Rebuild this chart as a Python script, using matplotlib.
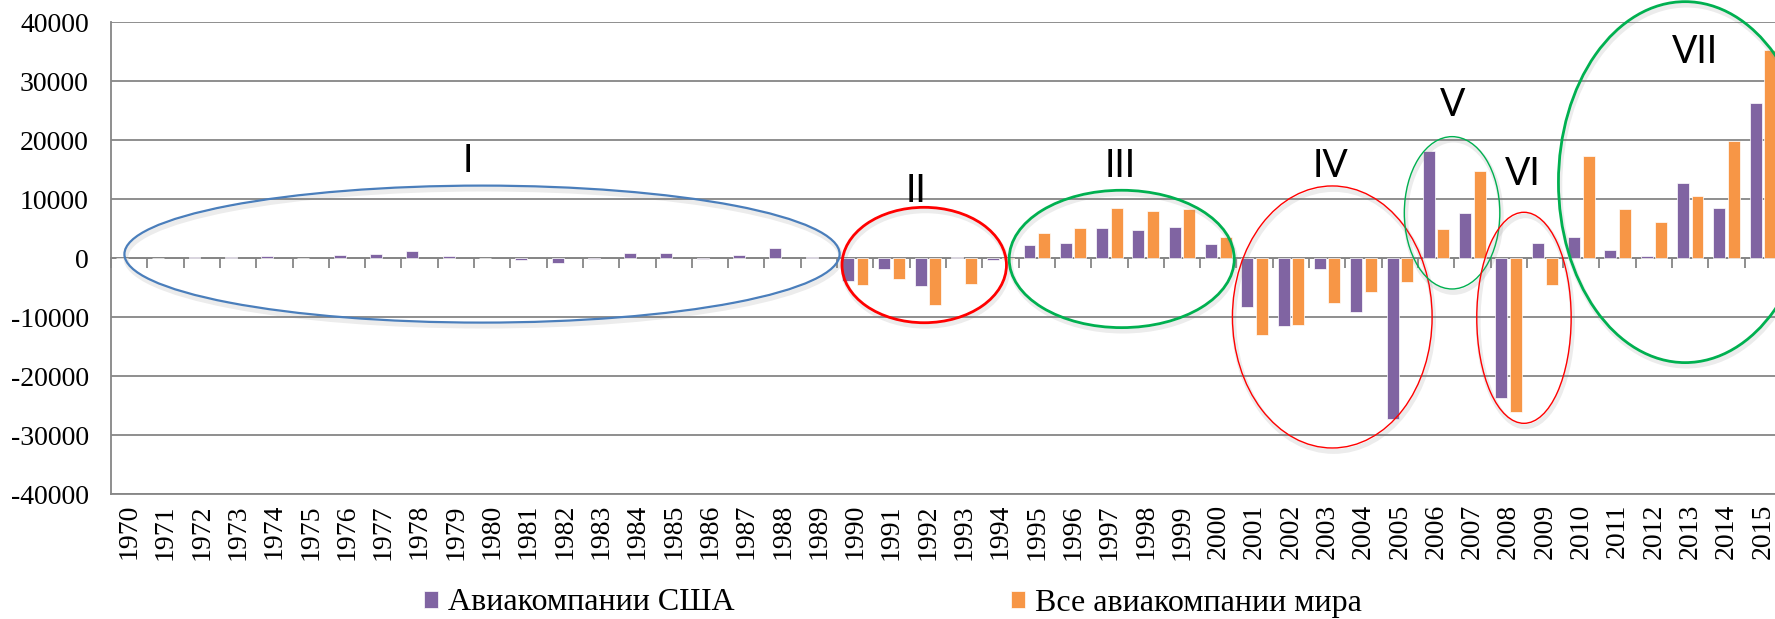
import numpy as np
import matplotlib
matplotlib.use('Agg')
from matplotlib import pyplot as plt
from matplotlib.patches import Ellipse
import matplotlib.patheffects as pe

plt.rcParams['axes.unicode_minus'] = False

# %% data
years = list(range(1970, 2016))
usa = [0, 0, 230, 230, 340, 0, 560, 730, 1190, 400,
       0, -230, -850, -150, 900, 900, -150, 560, 1750, 200,
       -3840, -1860, -4750, 230, -340, 2260, 2660, 5080, 4800, 5250,
       2430, -8300, -11400, -1810, -9150, -27200, 18190, 7680, -23730, 2600,
       3670, 1410, 400, 12770, 8530, 26380]
world = [np.nan]*20 + [
       -4460, -3450, -7850, -4350, -150, 4350, 5200, 8530, 8080, 8420,
       3670, -13050, -11360, -7630, -5650, -4070, 5030, 14750, -25990, -4520,
       17340, 8360, 6160, 10620, 19890, 35310]
label_usa = 'Авиакомпании США'
label_world = 'Все авиакомпании мира'

# periods: label, label x, label y, ellipse center, width, height, colour, line width
periods = [
    ('I',   9.33, 16470, (9.72, 710),     19.7, 23220, '#4a7ebb', 1.6),
    ('II',  21.67, 11380, (21.9, -1140),  4.53, 19560, '#ff0000', 2.0),
    ('III', 27.31, 15700, (27.34, -110),  6.2, 23280, '#00b050', 2.0),
    ('IV',  33.1, 15700, (33.14, -9945),  5.5, 44410, '#ff0000', 1.0),
    ('V',   36.46, 25930, (36.44, 7710),  2.63, 25820, '#00b050', 1.0),
    ('VI',  38.39, 14350, (38.42, -10085), 2.6, 35770, '#ff0000', 1.0),
    ('VII', 43.13, 35050, (42.86, 12910), 6.98, 61180, '#00b050', 2.0),
]

clr_usa = '#8064a2'
clr_world = '#f79646'
grid_clr = '#868686'

# %% plot
fig = plt.figure(figsize=(17.75, 6.19), dpi=100)
ax = fig.add_axes([111/1775, 1-494.3/619, 1670/1775, (494.3-22.3)/619])

x = np.arange(len(years))
b1 = ax.bar(x-0.2, usa, width=0.33, color=clr_usa, edgecolor='white', linewidth=0.5, zorder=3)
b2 = ax.bar(x+0.2, world, width=0.33, color=clr_world, edgecolor='white', linewidth=0.5, zorder=3)

ax.set_xlim(-0.5, len(years)-0.5)
ax.set_ylim(-40000, 40000)
ax.set_yticks(np.arange(-40000, 40001, 10000))
ax.yaxis.grid(True, color=grid_clr, linewidth=1.3, zorder=0)
ax.set_axisbelow(True)
for s in ['top', 'right']:
    ax.spines[s].set_visible(False)
ax.spines['left'].set_color(grid_clr)
ax.spines['left'].set_linewidth(1.3)
ax.spines['bottom'].set_color(grid_clr)
ax.spines['bottom'].set_linewidth(1.3)

ax.set_xticks(x)
ax.set_xticklabels([str(y) for y in years], rotation=90, family='Liberation Serif', fontsize=20)
ax.tick_params(axis='x', length=0, pad=7)
ax.tick_params(axis='y', length=0, pad=16, labelsize=20)
for t in ax.get_yticklabels():
    t.set_family('Liberation Serif')

# category axis crossing at zero, with tick marks between categories
sec = ax.secondary_xaxis(0.4999)
sec.set_xticks(np.arange(-0.5, len(years), 1.0))
sec.set_xticklabels([])
sec.tick_params(axis='x', direction='out', length=7, width=1.3, color=grid_clr)
for s in sec.spines.values():
    s.set_color(grid_clr)
    s.set_linewidth(1.3)

# ellipses and roman numerals
shadow = [pe.SimpleLineShadow(offset=(1, -2.5), shadow_color='#808080', alpha=0.15, linewidth=3.5),
          pe.Normal()]
for name, lx, ly, c, w, h, clr, lw in periods:
    e = Ellipse(c, w, h, fill=False, edgecolor=clr, linewidth=lw, zorder=4, clip_on=False)
    e.set_path_effects(shadow)
    ax.add_patch(e)
    ax.text(lx, ly, name, ha='center', va='center', fontsize=27, family='Lato', zorder=5)

fig.legend([b1, b2], [label_usa, label_world], loc='center left',
           bbox_to_anchor=(424/1775, 1-603/619), ncol=2, frameon=False,
           prop={'family': 'Liberation Serif', 'size': 23},
           handlelength=0.45, handleheight=0.45, handletextpad=0.3,
           columnspacing=8.65, borderpad=0, borderaxespad=0)

fig.savefig('out.png', dpi=100)
